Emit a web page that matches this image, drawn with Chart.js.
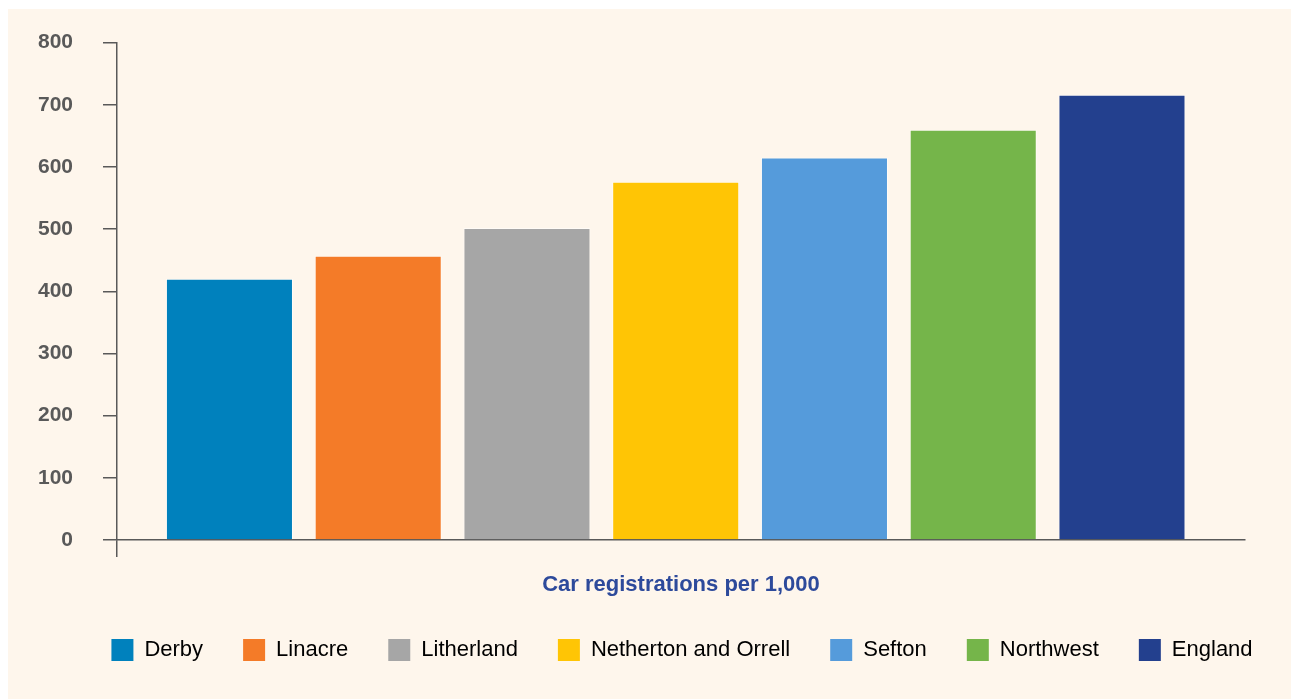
<!DOCTYPE html>
<html>
<head>
<meta charset="utf-8">
<script src="https://cdn.jsdelivr.net/npm/chart.js@4"></script>
<style>
	html, body { margin: 0; padding: 0; background: #ffffff; overflow: hidden; }
	#bg { position: absolute; left: 8px; top: 9px; width: 1283px; height: 690px; background: #fef6ec; }
	#wrap { position: absolute; left: 0; top: 0; width: 1298px; height: 699px; }
</style>
</head>
<body>
<div id="bg"></div>
<div id="wrap"><canvas id="carChart" width="1298" height="699"></canvas></div>
<script>
// 차트 데이터
const categories = ['Derby', 'Linacre', 'Litherland', 'Netherton and Orrell', 'Sefton', 'Northwest', 'England'];
const registrations = [420, 457, 502, 576, 615, 660, 716];
const barColors = ['#0081bd', '#f47b28', '#a6a6a6', '#ffc505', '#559bdb', '#75b54a', '#23408e'];
const yTicks = [0, 100, 200, 300, 400, 500, 600, 700, 800];

const axisGray = '#595959';
const fontFamily = 'Liberation Sans, Arial, sans-serif';

document.addEventListener('DOMContentLoaded', function () {
	const ctx = document.getElementById('carChart').getContext('2d');
	const chart = new Chart(ctx, {
		type: 'bar',
		data: {
			labels: categories,
			datasets: [{
				label: 'Car registrations per 1,000',
				data: registrations.map((v, i) => ({ x: i, y: v })),
				backgroundColor: barColors,
				borderColor: 'rgba(255, 255, 255, 0.55)',
				borderWidth: 1,
				categoryPercentage: 1,
				barPercentage: 0.854
			}]
		},
		options: {
			responsive: false,
			animation: false,
			events: [],
			layout: {
				// 범례를 가운데 맞추기 위해 오른쪽은 음수 여백
				padding: { left: 32, right: -34, top: 38.5, bottom: 28 }
			},
			scales: {
				x: {
					type: 'linear',
					offset: false,
					min: -0.756,
					max: 6.827,
					afterBuildTicks: function (scale) {
						scale.ticks = [{ value: scale.min }];
					},
					afterFit: function (scale) {
						scale.height = 59;
					},
					ticks: { display: false },
					grid: {
						offset: false,
						drawOnChartArea: false,
						drawTicks: true,
						tickLength: 17,
						color: axisGray,
						lineWidth: 1.5
					},
					border: { display: true, color: axisGray, width: 1.5 },
					title: {
						display: true,
						text: 'Car registrations per 1,000',
						color: '#2d4a9b',
						font: { family: fontFamily, size: 22, weight: 'bold' },
						padding: { top: 0, bottom: 1 }
					}
				},
				y: {
					min: 0,
					max: 800,
					afterBuildTicks: function (scale) {
						scale.ticks = yTicks.map(v => ({ value: v }));
					},
					afterFit: function (scale) {
						scale.width = 85;
					},
					ticks: {
						padding: 30,
						color: axisGray,
						font: { family: fontFamily, size: 21, weight: 'bold' }
					},
					grid: {
						drawOnChartArea: false,
						drawTicks: true,
						tickLength: 14,
						color: axisGray,
						lineWidth: 1.5
					},
					border: { display: true, color: axisGray, width: 1.5 }
				},
				// 오른쪽 여백용 빈 축
				yRight: {
					position: 'right',
					display: true,
					afterFit: function (scale) {
						scale.width = 87;
					},
					ticks: { display: false },
					grid: { display: false },
					border: { display: false }
				}
			},
			plugins: {
				tooltip: { enabled: false },
				legend: {
					position: 'bottom',
					labels: {
						boxWidth: 22,
						boxHeight: 22,
						padding: 40,
						color: '#404040',
						font: { family: fontFamily, size: 22 },
						generateLabels: function () {
							return categories.map((name, i) => ({
								text: name,
								fillStyle: barColors[i],
								strokeStyle: barColors[i],
								lineWidth: 0,
								hidden: false,
								index: i
							}));
						}
					}
				}
			}
		}
	});
});
</script>
</body>
</html>
